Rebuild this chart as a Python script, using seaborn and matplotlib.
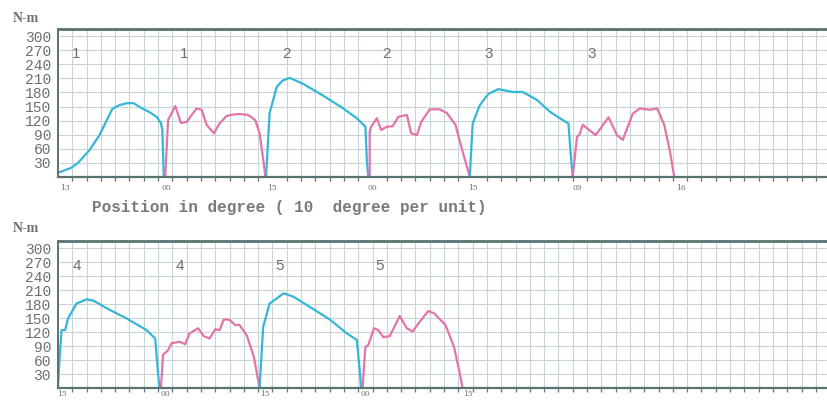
import numpy as np
import pandas as pd
import matplotlib
matplotlib.use("Agg")
import matplotlib.pyplot as plt
import seaborn as sns

# ==========================================================
# Data (position in grid units of 10 degrees, torque in N-m)
# ==========================================================

# ---- top chart ----
cyan_1_x = [0.0, 0.9, 1.4, 2.2, 2.9, 3.4, 3.8, 4.3, 4.8, 5.3, 5.7, 6.4, 6.9, 7.2, 7.3, 7.4]
cyan_1_y = [9, 19, 30, 57, 89, 120, 145, 153, 157, 157, 149, 138, 128, 115, 100, 0]

pink_1_x = [7.5, 7.7, 8.2, 8.6, 9.0, 9.35, 9.7, 10.05, 10.4, 10.9, 11.3, 11.8,
            12.3, 12.7, 13.3, 13.8, 14.1, 14.4, 14.5]
pink_1_y = [0, 121, 151, 115, 117, 132, 146, 143, 111, 93, 114, 130,
            133, 134, 132, 121, 93, 27, 0]

cyan_2_x = [14.55, 14.8, 15.3, 15.7, 16.2, 17.1, 18.5, 19.9, 20.9, 21.5, 21.6, 21.7]
cyan_2_y = [0, 136, 192, 205, 211, 199, 174, 147, 125, 107, 36, 0]

pink_2_x = [21.8, 21.8, 21.9, 22.3, 22.6, 23.0, 23.4, 23.8, 24.4, 24.7, 25.1,
            25.4, 26.0, 26.7, 27.2, 27.8, 28.2, 28.8]
pink_2_y = [0, 96, 107, 125, 100, 107, 108, 128, 132, 93, 89,
            117, 144, 144, 136, 111, 65, 0]

cyan_3_x = [28.8, 29.0, 29.5, 30.1, 30.8, 31.8, 32.5, 33.5, 34.4, 35.2, 35.7, 35.85, 36.0]
cyan_3_y = [0, 114, 153, 177, 187, 181, 181, 164, 139, 123, 114, 51, 0]

pink_3_x = [36.0, 36.3, 36.45, 36.7, 37.6, 38.5, 39.1, 39.5, 40.2, 40.7, 41.4,
            41.9, 42.4, 42.8, 43.1]
pink_3_y = [0, 86, 89, 111, 89, 127, 89, 79, 135, 146, 143,
            146, 111, 54, 0]

# ---- bottom chart ----
cyan_4_x = [0.0, 0.1, 0.25, 0.5, 0.7, 1.3, 2.0, 2.5, 3.4, 4.8, 6.2, 6.8, 7.0, 7.1]
cyan_4_y = [0, 60, 124, 124, 149, 181, 190, 187, 171, 149, 124, 106, 31, 0]

pink_4_x = [7.2, 7.35, 7.7, 7.95, 8.5, 8.9, 9.2, 9.8, 10.2, 10.6, 11.0, 11.3,
            11.6, 12.0, 12.4, 12.7, 13.2, 13.7, 14.1]
pink_4_y = [0, 71, 81, 96, 99, 94, 117, 128, 111, 106, 126, 124,
            147, 146, 135, 135, 113, 67, 0]

cyan_5_x = [14.1, 14.35, 14.8, 15.8, 16.5, 17.6, 19.0, 20.2, 20.9, 21.1, 21.2]
cyan_5_y = [0, 131, 181, 203, 195, 174, 147, 117, 103, 39, 0]

pink_5_x = [21.3, 21.5, 21.7, 22.1, 22.4, 22.75, 23.2, 23.9, 24.4, 24.8, 25.3,
            25.9, 26.3, 27.1, 27.7, 28.1, 28.3]
pink_5_y = [0, 88, 92, 128, 124, 109, 111, 154, 128, 121, 142,
            165, 160, 135, 88, 31, 0]

# segment numbers written above the curves
top_num_x = [1.3, 8.8, 16.0, 23.0, 30.1, 37.3]
top_num_labels = ["1", "1", "2", "2", "3", "3"]
bottom_num_x = [1.3, 8.5, 15.5, 22.5]
bottom_num_labels = ["4", "4", "5", "5"]

# angle readings along the x axis
top_tick_x = [0.5, 7.6, 15.0, 22.0, 29.0, 36.3, 43.6]
top_tick_labels = ["13", "00", "15", "00", "15", "09", "16"]
bottom_tick_x = [0.3, 7.5, 14.5, 21.5, 28.7]
bottom_tick_labels = ["15", "00", "15", "00", "15"]

y_ticks = [30, 60, 90, 120, 150, 180, 210, 240, 270, 300]

# ==========================================================
# Plot
# ==========================================================

sns.set_style("white")
plt.rcParams["font.family"] = ["Liberation Mono", "DejaVu Sans"]

CYAN = "#35b6d6"
PINK = "#e274ac"
GRID = "#c9d4d7"
SPINE = "#5a7272"
TEXT = "#6f6f6f"

fig = plt.figure(figsize=(8.28, 4.0), dpi=100)
ax_top = fig.add_axes([0.070, 0.5575, 0.93, 0.37])
ax_bot = fig.add_axes([0.070, 0.030, 0.93, 0.3675])

top_curves = [
    (cyan_1_x, cyan_1_y, CYAN), (pink_1_x, pink_1_y, PINK),
    (cyan_2_x, cyan_2_y, CYAN), (pink_2_x, pink_2_y, PINK),
    (cyan_3_x, cyan_3_y, CYAN), (pink_3_x, pink_3_y, PINK),
]
bottom_curves = [
    (cyan_4_x, cyan_4_y, CYAN), (pink_4_x, pink_4_y, PINK),
    (cyan_5_x, cyan_5_y, CYAN), (pink_5_x, pink_5_y, PINK),
]


def style_axis(ax, tick_x, tick_labels, label_pad):
    ax.set_xlim(0, 53.85)
    ax.set_ylim(0, 315)

    # grid
    ax.set_xticks(np.arange(1, 54), minor=True)
    ax.set_yticks(y_ticks)
    ax.grid(which="minor", axis="x", color=GRID, linewidth=0.8)
    ax.grid(which="major", axis="y", color=GRID, linewidth=0.8)

    ax.set_xticks(tick_x)
    ax.set_xticklabels(tick_labels, fontsize=5.5, color=TEXT, family="DejaVu Serif")
    ax.tick_params(axis="x", which="major", length=0, pad=label_pad)
    ax.tick_params(axis="x", which="minor", length=3, width=0.9, color=SPINE,
                   direction="out", bottom=True)
    ax.tick_params(axis="y", length=0, pad=5, labelsize=10.5, labelcolor=TEXT)

    for side in ["top", "bottom", "left"]:
        ax.spines[side].set_visible(True)
        ax.spines[side].set_color(SPINE)
    ax.spines["top"].set_linewidth(2.0)
    ax.spines["bottom"].set_linewidth(1.6)
    ax.spines["left"].set_linewidth(1.4)
    ax.spines["right"].set_visible(False)
    ax.set_xlabel("")
    ax.set_ylabel("")


for ax, curves in [(ax_top, top_curves), (ax_bot, bottom_curves)]:
    for xs, ys, col in curves:
        df = pd.DataFrame({"pos": xs, "torque": ys})
        sns.lineplot(data=df, x="pos", y="torque", ax=ax, color=col,
                     linewidth=1.6, sort=False, estimator=None)

style_axis(ax_top, top_tick_x, top_tick_labels, 5)
style_axis(ax_bot, bottom_tick_x, bottom_tick_labels, 1.5)

for x, lab in zip(top_num_x, top_num_labels):
    ax_top.text(x, 262, lab, ha="center", va="center", fontsize=11,
                color=TEXT, family="Liberation Sans")
for x, lab in zip(bottom_num_x, bottom_num_labels):
    ax_bot.text(x, 262, lab, ha="center", va="center", fontsize=11,
                color=TEXT, family="Liberation Sans")

# unit labels and axis caption
fig.text(0.016, 0.955, "N-m", fontsize=10, fontweight="bold", color=TEXT,
         family="Liberation Serif", va="center")
fig.text(0.016, 0.428, "N-m", fontsize=10, fontweight="bold", color=TEXT,
         family="Liberation Serif", va="center")
fig.text(0.111, 0.482, "Position in degree ( 10  degree per unit)",
         fontsize=11.5, fontweight="bold", color="#7a7a7a", va="center")

fig.savefig("out.png", dpi=100, facecolor="white")
